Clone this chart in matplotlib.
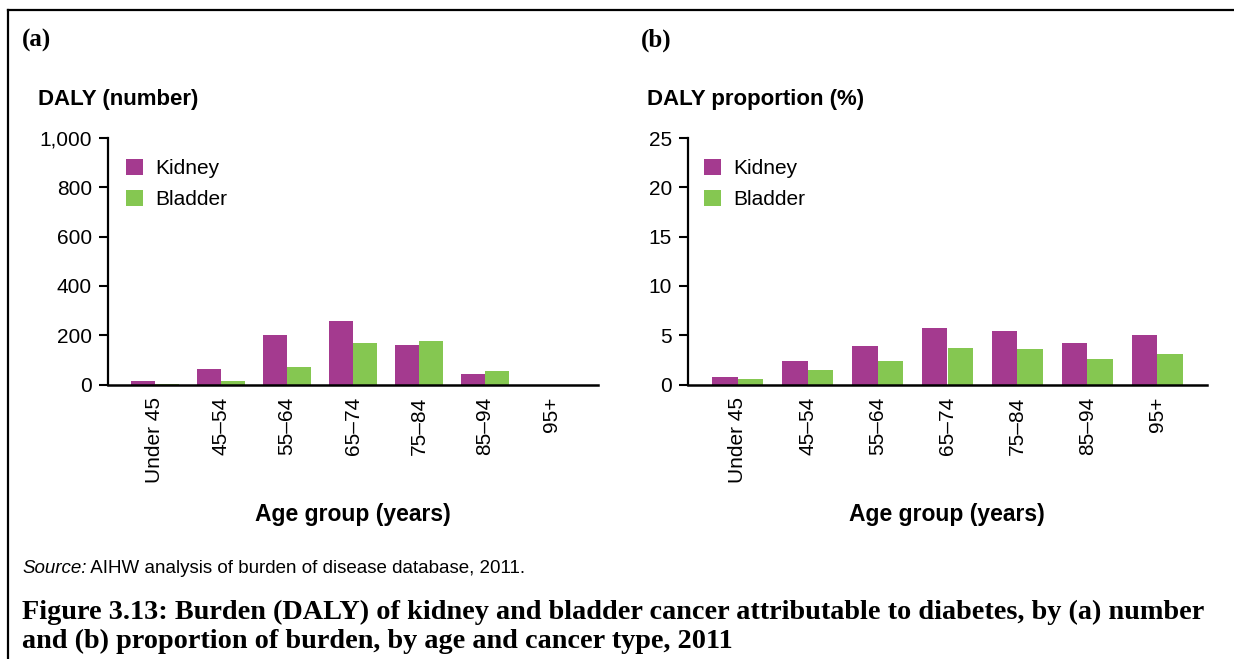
import numpy as np
import matplotlib
matplotlib.use("Agg")
import matplotlib.pyplot as plt
from matplotlib.lines import Line2D
from matplotlib.ticker import FuncFormatter

plt.rcParams["font.family"] = ["Liberation Sans", "DejaVu Sans"]

AGE_GROUPS = ["Under 45", "45–54", "55–64", "65–74", "75–84", "85–94", "95+"]

# (a) DALY number
kidney_num = [14, 62, 200, 257, 160, 42, 0]
bladder_num = [1, 14, 70, 168, 176, 54, 0]

# (b) DALY proportion (%)
kidney_pct = [0.75, 2.4, 3.9, 5.7, 5.4, 4.2, 5.0]
bladder_pct = [0.55, 1.5, 2.4, 3.7, 3.6, 2.6, 3.1]

KIDNEY_COL = "#A43A8F"
BLADDER_COL = "#85C751"

W, H = 1234, 659
fig = plt.figure(figsize=(W / 100, H / 100), dpi=100)


def px_ax(left, right, top, bottom):
    return [left / W, 1 - bottom / H, (right - left) / W, (bottom - top) / H]


def draw_panel(ax, kid, bla, ymax, yticks, fmt, leg_x):
    x = np.arange(len(AGE_GROUPS))
    w = 0.36
    ax.bar(x - w / 2, kid, w, color=KIDNEY_COL, label="Kidney")
    ax.bar(x + w / 2, bla, w, color=BLADDER_COL, label="Bladder")
    ax.set_xlim(-0.71, 6.71)
    ax.set_ylim(0, ymax)
    ax.set_yticks(yticks)
    ax.yaxis.set_major_formatter(FuncFormatter(fmt))
    ax.set_xticks(x)
    ax.set_xticklabels(AGE_GROUPS, rotation=90, va="top", ha="center")
    for s in ["top", "right"]:
        ax.spines[s].set_visible(False)
    ax.spines["left"].set_linewidth(1.6)
    ax.spines["bottom"].set_linewidth(1.8)
    ax.tick_params(axis="y", direction="out", length=6.5, width=1.5,
                   pad=5, labelsize=15)
    ax.tick_params(axis="x", length=0, pad=9, labelsize=15)
    ax.legend(loc="upper left", bbox_to_anchor=(leg_x, 0.915), frameon=False,
              fontsize=15, handlelength=0.8, handleheight=0.8,
              handletextpad=0.6, labelspacing=0.55, borderaxespad=0,
              borderpad=0)


ax_a = fig.add_axes(px_ax(108, 598, 138, 384.5))
draw_panel(ax_a, kidney_num, bladder_num, 1000, [0, 200, 400, 600, 800, 1000],
           lambda v, p: f"{int(v):,}", 0.037)

ax_b = fig.add_axes(px_ax(688, 1207, 138, 384.5))
draw_panel(ax_b, kidney_pct, bladder_pct, 25, [0, 5, 10, 15, 20, 25],
           lambda v, p: f"{int(v)}", 0.031)

# panel letters and axis titles
fig.text(22 / W, 1 - 40 / H, "(a)", fontsize=18, fontweight="bold",
         family="Liberation Serif", va="center", ha="left")
fig.text(641 / W, 1 - 40 / H, "(b)", fontsize=18, fontweight="bold",
         family="Liberation Serif", va="center", ha="left")
fig.text(38 / W, 1 - 100 / H, "DALY (number)", fontsize=16, fontweight="bold",
         va="center", ha="left")
fig.text(647 / W, 1 - 100 / H, "DALY proportion (%)", fontsize=16,
         fontweight="bold", va="center", ha="left")
fig.text(353 / W, 1 - 515 / H, "Age group (years)", fontsize=16.5,
         fontweight="bold", va="center", ha="center")
fig.text(947 / W, 1 - 515 / H, "Age group (years)", fontsize=16.5,
         fontweight="bold", va="center", ha="center")

# source note
src = fig.text(22 / W, 1 - 573 / H, "Source:", fontsize=13.5, style="italic",
               va="baseline", ha="left")
ax_a.annotate(" AIHW analysis of burden of disease database, 2011.",
              xy=(1, 0), xycoords=src, va="bottom", ha="left",
              fontsize=13.5, annotation_clip=False)

# caption
fig.text(22 / W, 1 - 612 / H,
         "Figure 3.13: Burden (DALY) of kidney and bladder cancer attributable to diabetes, by (a) number",
         fontsize=20.3, fontweight="bold", family="Liberation Serif",
         va="center", ha="left")
fig.text(22 / W, 1 - 641 / H,
         "and (b) proportion of burden, by age and cancer type, 2011",
         fontsize=20.3, fontweight="bold", family="Liberation Serif",
         va="center", ha="left")

# frame lines (top and left)
fig.add_artist(Line2D([8 / W, 1], [1 - 10 / H, 1 - 10 / H], color="black",
                      lw=1.6, transform=fig.transFigure))
fig.add_artist(Line2D([8 / W, 8 / W], [1 - 10 / H, 0], color="black",
                      lw=1.6, transform=fig.transFigure))

fig.savefig("out.png", dpi=100)
